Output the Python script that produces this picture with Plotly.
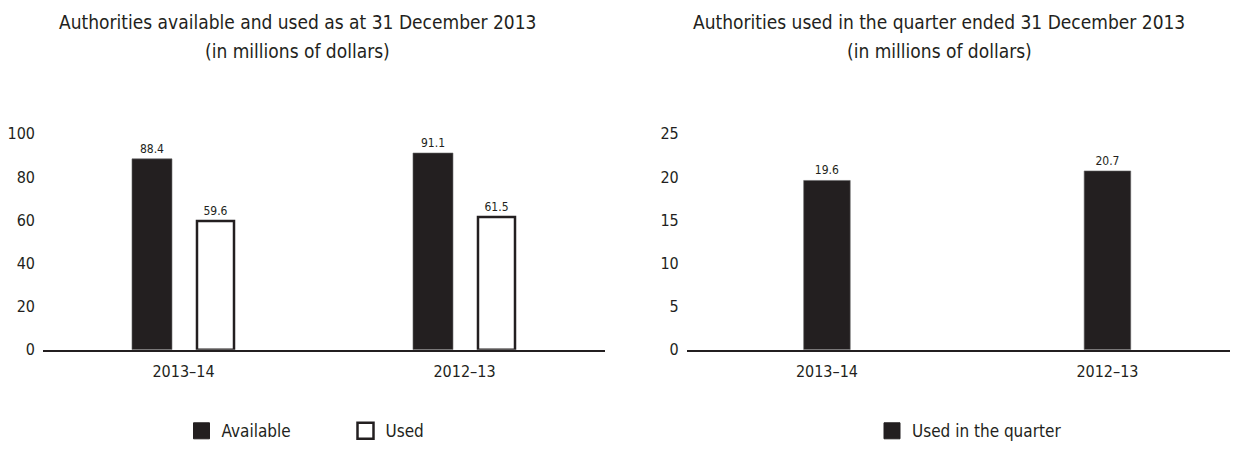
import plotly.graph_objects as go

categories = ["2013–14", "2012–13"]
available = [88.4, 91.1]
used = [59.6, 61.5]
used_quarter = [19.6, 20.7]
left_ticks = [0, 20, 40, 60, 80, 100]
right_ticks = [0, 5, 10, 15, 20, 25]
left_title = ["Authorities available and used as at 31 December 2013", "(in millions of dollars)"]
right_title = ["Authorities used in the quarter ended 31 December 2013", "(in millions of dollars)"]
series_names = ["Available", "Used", "Used in the quarter"]

# page body has an 8px side margin, so the figure is sized to fit inside the window
PAD = 8
W, H = 1238 - 2 * PAD, 460 - 2 * PAD
FONT = "DejaVu Sans Condensed, Liberation Sans Narrow, sans-serif"
INK = "#231f20"


def fx(px):  # screen x -> paper fraction
    return (px - PAD) / W


def fy(py):  # screen y -> paper fraction
    return (H - py) / H


def labels(vals):
    return [f"{v:.1f}" for v in vals]


fig = go.Figure()

# left chart bars
fig.add_bar(x=categories, y=available, xaxis="x", yaxis="y", showlegend=False,
            marker=dict(color=INK, line=dict(color="#666", width=0.6)),
            width=0.1423, offset=-0.1833,
            text=labels(available), textposition="outside", cliponaxis=False,
            textfont=dict(size=12, color=INK, family=FONT))
fig.add_bar(x=categories, y=used, xaxis="x", yaxis="y", showlegend=False,
            marker=dict(color="white", line=dict(color=INK, width=2.5)),
            width=0.1317, offset=0.0480,
            text=labels(used), textposition="outside", cliponaxis=False,
            textfont=dict(size=12, color=INK, family=FONT))

# right chart bars
fig.add_bar(x=categories, y=used_quarter, xaxis="x2", yaxis="y2", showlegend=False,
            marker=dict(color=INK, line=dict(color="#666", width=0.6)),
            width=0.166, offset=-0.083,
            text=labels(used_quarter), textposition="outside", cliponaxis=False,
            textfont=dict(size=12, color=INK, family=FONT))

# legend entries
fig.add_scatter(x=[None], y=[None], mode="markers", name=series_names[0],
                xaxis="x", yaxis="y", legend="legend",
                marker=dict(symbol="square", size=21, color=INK, line=dict(color=INK, width=1)))
fig.add_scatter(x=[None], y=[None], mode="markers", name=series_names[1],
                xaxis="x", yaxis="y", legend="legend",
                marker=dict(symbol="square", size=21, color="white", line=dict(color=INK, width=2.5)))
fig.add_scatter(x=[None], y=[None], mode="markers", name=series_names[2],
                xaxis="x2", yaxis="y2", legend="legend2",
                marker=dict(symbol="square", size=21, color=INK, line=dict(color=INK, width=1)))

ydom = [fy(349.7), fy(349.7 - 105 * 2.21)]
axis_common = dict(showgrid=False, zeroline=False, fixedrange=True)
xcommon = dict(type="category", showline=True, linewidth=2, linecolor=INK, ticks="",
               tickfont=dict(size=16, color=INK, family=FONT), ticklabelstandoff=6,
               **axis_common)
ycommon = dict(showline=False, ticks="", tickfont=dict(size=16, color=INK, family=FONT),
               ticklabelstandoff=7, **axis_common)

legend_common = dict(orientation="h", yanchor="middle", y=fy(433),
                     xanchor="left", font=dict(size=17, color=INK, family=FONT),
                     itemsizing="trace", bgcolor="rgba(0,0,0,0)", traceorder="normal")

x2_left = 686.7
x2_unit = 280.5
x2_end = -0.5 + (PAD + W - x2_left) / x2_unit

title_font = dict(size=19, color=INK, family=FONT)
annotations = []
for lines, cx in ((left_title, 297.5), (right_title, 939)):
    for line, cy in zip(lines, (14, 44)):
        annotations.append(dict(text=line, x=fx(cx), y=fy(cy), xref="paper", yref="paper",
                                showarrow=False, xanchor="center", yanchor="middle",
                                font=title_font))

fig.update_layout(
    width=W, height=H,
    margin=dict(l=0, r=0, t=0, b=0),
    paper_bgcolor="white", plot_bgcolor="white",
    font=dict(family=FONT, color=INK),
    barmode="overlay",
    xaxis=dict(domain=[fx(43), fx(605)], range=[-0.5, 1.5], anchor="y", **xcommon),
    yaxis=dict(domain=ydom, range=[0, 105], tickvals=left_ticks, anchor="x", **ycommon),
    xaxis2=dict(domain=[fx(x2_left), 1.0], range=[-0.5, x2_end], anchor="y2", **xcommon),
    yaxis2=dict(domain=ydom, range=[0, 26.25], tickvals=right_ticks, anchor="x2", **ycommon),
    legend=dict(x=fx(181.5), entrywidth=119, **legend_common),
    legend2=dict(x=fx(872), **legend_common),
    annotations=annotations,
)

fig.write_html("out.html")
